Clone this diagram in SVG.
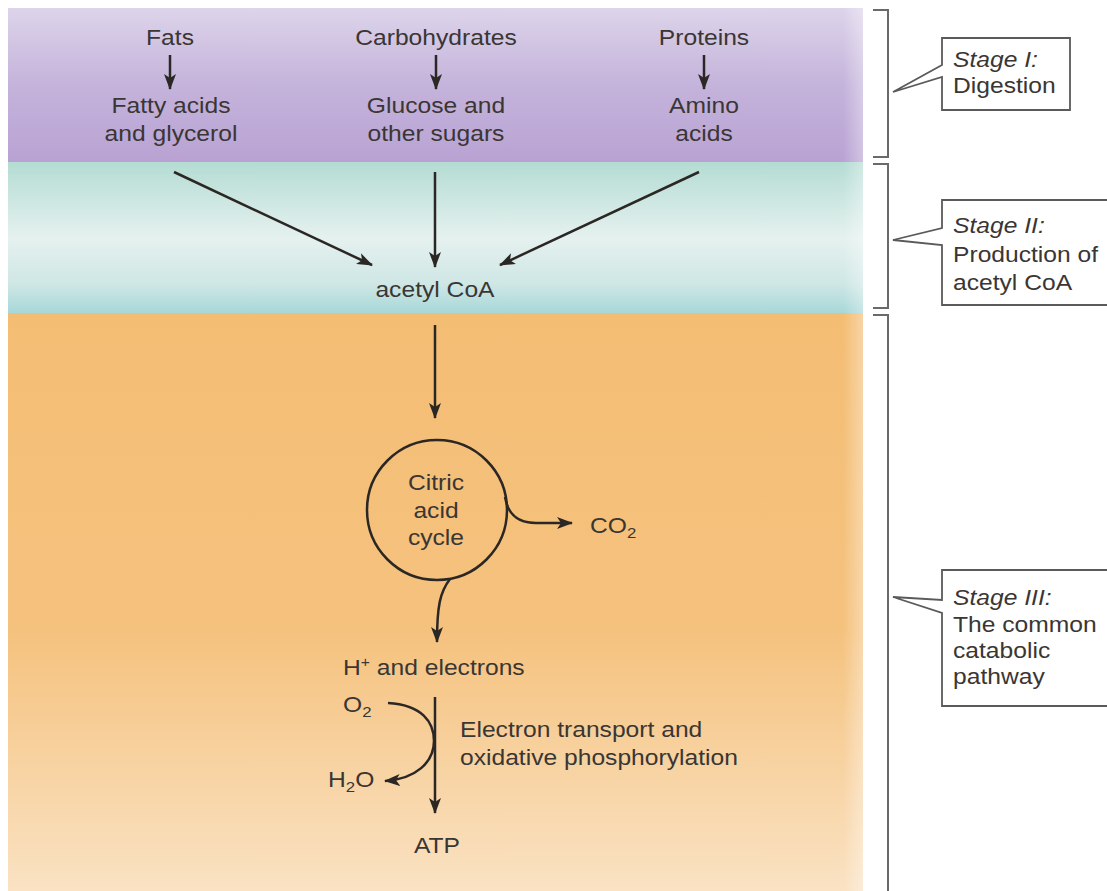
<svg xmlns="http://www.w3.org/2000/svg" width="1107" height="891" viewBox="0 0 1107 891">
  <defs>
    <linearGradient id="gPurple" x1="0" y1="0" x2="0" y2="1">
      <stop offset="0" stop-color="#ddd4ea"/>
      <stop offset="0.5" stop-color="#c4b3db"/>
      <stop offset="1" stop-color="#b9a2d3"/>
    </linearGradient>
    <linearGradient id="gTeal" x1="0" y1="0" x2="0" y2="1">
      <stop offset="0" stop-color="#b4dcd3"/>
      <stop offset="0.5" stop-color="#e5f1ef"/>
      <stop offset="0.8" stop-color="#cfe7e5"/>
      <stop offset="1" stop-color="#a6d7d8"/>
    </linearGradient>
    <linearGradient id="gOrange" x1="0" y1="0" x2="0" y2="1">
      <stop offset="0" stop-color="#f4bd74"/>
      <stop offset="0.55" stop-color="#f5c27e"/>
      <stop offset="1" stop-color="#fae2c3"/>
    </linearGradient>
    <linearGradient id="gEdge" x1="0" y1="0" x2="1" y2="0">
      <stop offset="0" stop-color="#ffffff" stop-opacity="0"/>
      <stop offset="1" stop-color="#ffffff" stop-opacity="0.35"/>
    </linearGradient>
    <marker id="ah" viewBox="0 0 16 12" refX="15" refY="6" markerWidth="16" markerHeight="12" markerUnits="userSpaceOnUse" orient="auto">
      <path d="M0,0 L16,6 L0,12 L4,6 Z" fill="#2b2724"/>
    </marker>
    <style>
      .t { font-family: "Liberation Sans", Arial, sans-serif; font-size: 22px; fill: #3a3634; }
      .m { text-anchor: middle; transform-box: fill-box; transform-origin: center; transform: scaleX(1.12); }
      .s { text-anchor: start; transform-box: fill-box; transform-origin: left center; transform: scaleX(1.12); }
      .i { font-style: italic; }
      .ln { fill: none; stroke: #2b2724; stroke-width: 2.5; }
      .arr { fill: none; stroke: #2b2724; stroke-width: 2.5; marker-end: url(#ah); }
      .br { fill: none; stroke: #6a6a6a; stroke-width: 2; }
      .co { fill: #ffffff; stroke: #5a5a5a; stroke-width: 1.8; stroke-linejoin: miter; }
      .sub { font-size: 15px; }
    </style>
  </defs>

  <rect x="0" y="0" width="1107" height="891" fill="#ffffff"/>

  <!-- background bands -->
  <g id="bands">
    <rect x="8" y="8" width="855" height="155" fill="url(#gPurple)"/>
    <rect x="8" y="162" width="855" height="152" fill="url(#gTeal)"/>
    <rect x="8" y="313" width="855" height="578" fill="url(#gOrange)"/>
    <rect x="843" y="8" width="20" height="883" fill="url(#gEdge)"/>
  </g>

  <!-- Stage I nodes -->
  <g id="fats">
    <text class="t m" x="170" y="45">Fats</text>
    <text class="t m" x="171" y="113">Fatty acids</text>
    <text class="t m" x="171" y="141">and glycerol</text>
  </g>
  <g id="carbohydrates">
    <text class="t m" x="436" y="45">Carbohydrates</text>
    <text class="t m" x="436" y="113">Glucose and</text>
    <text class="t m" x="436" y="141">other sugars</text>
  </g>
  <g id="proteins">
    <text class="t m" x="704" y="45">Proteins</text>
    <text class="t m" x="704" y="113">Amino</text>
    <text class="t m" x="704" y="141">acids</text>
  </g>

  <g id="acetyl-coa">
    <text class="t m" x="435" y="297">acetyl CoA</text>
  </g>

  <g id="citric-acid-cycle">
    <circle cx="437" cy="510" r="70" fill="none" stroke="#2b2724" stroke-width="2.5"/>
    <text class="t m" x="436" y="490">Citric</text>
    <text class="t m" x="436" y="518">acid</text>
    <text class="t m" x="436" y="545">cycle</text>
  </g>

  <g id="co2">
    <text class="t s" x="590" y="533">CO<tspan class="sub" dy="5">2</tspan></text>
  </g>

  <g id="h-electrons">
    <text class="t s" x="343" y="675">H<tspan font-size="14" dy="-8">+</tspan><tspan dy="8"> and electrons</tspan></text>
  </g>

  <g id="o2">
    <text class="t s" x="343" y="712">O<tspan class="sub" dy="5">2</tspan></text>
  </g>
  <g id="h2o">
    <text class="t s" x="328" y="787">H<tspan class="sub" dy="5">2</tspan><tspan dy="-5">O</tspan></text>
  </g>

  <g id="electron-transport">
    <text class="t s" x="460" y="737">Electron transport and</text>
    <text class="t s" x="460" y="765">oxidative phosphorylation</text>
  </g>

  <g id="atp">
    <text class="t m" x="437" y="853">ATP</text>
  </g>

  <!-- connectors -->
  <g id="connectors">
    <line class="arr" x1="170" y1="55" x2="170" y2="89"/>
    <line class="arr" x1="436" y1="55" x2="436" y2="89"/>
    <line class="arr" x1="704" y1="55" x2="704" y2="89"/>
    <line class="arr" x1="174" y1="172" x2="372" y2="265"/>
    <line class="arr" x1="435" y1="172" x2="435" y2="267"/>
    <line class="arr" x1="699" y1="172" x2="500" y2="265"/>
    <line class="arr" x1="435" y1="325" x2="435" y2="418"/>
    <path class="arr" d="M505,497 C508,515 518,523 536,523 L572,523"/>
    <path class="arr" d="M450,579 C440,592 437,606 437,642"/>
    <line class="arr" x1="435" y1="697" x2="435" y2="813"/>
    <path class="arr" d="M388,703 C422,705 434,722 434,741 C434,762 416,779 385,781"/>
  </g>

  <!-- stage brackets -->
  <g id="brackets">
    <path class="br" d="M873,10 H888 V157 H873"/>
    <path class="br" d="M873,164 H888 V308 H873"/>
    <path class="br" d="M873,315 H888 V891"/>
  </g>

  <g id="stage-1">
    <path class="co" d="M942,38 H1070 V110 H942 V77 L893,92 L942,65 Z"/>
    <text class="t s i" x="953" y="67">Stage I:</text>
    <text class="t s" x="953" y="93">Digestion</text>
  </g>
  <g id="stage-2">
    <path class="co" d="M942,200 H1112 V305 H942 V245 L893,240 L942,228 Z"/>
    <text class="t s i" x="953" y="233">Stage II:</text>
    <text class="t s" x="953" y="262">Production of</text>
    <text class="t s" x="953" y="290">acetyl CoA</text>
  </g>
  <g id="stage-3">
    <path class="co" d="M942,570 H1112 V706 H942 V613 L893,597 L942,600 Z"/>
    <text class="t s i" x="953" y="605">Stage III:</text>
    <text class="t s" x="953" y="632">The common</text>
    <text class="t s" x="953" y="658">catabolic</text>
    <text class="t s" x="953" y="684">pathway</text>
  </g>
</svg>
